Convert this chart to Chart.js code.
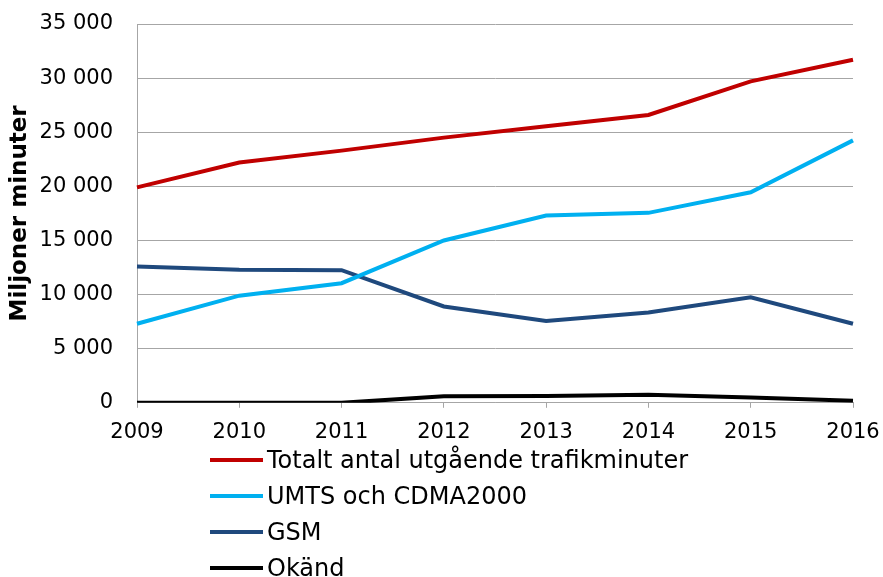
<!DOCTYPE html>
<html>
<head>
<meta charset="utf-8">
<script src="https://cdn.jsdelivr.net/npm/chart.js@4"></script>
<style>
  html, body { margin: 0; padding: 0; background: #fff; }
  #wrap { position: relative; width: 883px; height: 577px; font-family: "DejaVu Sans", Verdana, sans-serif; }
  #box { position: absolute; left: 0; top: 0; width: 883px; height: 457px; }
  #legend { position: absolute; left: 210px; top: 442px; margin: 0; padding: 0; list-style: none; }
  #legend li { height: 36px; display: flex; align-items: center; font-size: 24px; color: #000; }
  #legend li span { display: inline-block; width: 53px; height: 4px; margin-right: 4px; }
</style>
</head>
<body>
<div id="wrap">
  <div id="box"><canvas id="chartMinuter"></canvas></div>
  <ul id="legend"></ul>
</div>
<script>
// ==================== DATA ====================
const years = ['2009', '2010', '2011', '2012', '2013', '2014', '2015', '2016'];
const totalt = [19900, 22200, 23300, 24500, 25550, 26600, 29700, 31700];
const umts = [7300, 9900, 11050, 15000, 17300, 17550, 19450, 24250];
const gsm = [12600, 12300, 12250, 8900, 7550, 8350, 9750, 7300];
const okand = [0, 0, 0, 600, 620, 750, 500, 180];
const yTicks = [0, 5000, 10000, 15000, 20000, 25000, 30000, 35000];

const fonte = "'DejaVu Sans', Verdana, sans-serif";

function serie(label, data, cor) {
  return {
    label: label,
    data: data,
    borderColor: cor,
    backgroundColor: cor,
    borderWidth: 4,
    pointRadius: 0,
    tension: 0,
  };
}

// ==================== GRAFICO ====================
const cx = document.getElementById('chartMinuter');
const cht = new Chart(cx, {
  type: 'line',
  data: {
    labels: years,
    datasets: [
      serie('Totalt antal utgående trafikminuter', totalt, '#c00000'),
      serie('UMTS och CDMA2000', umts, '#00b0f0'),
      serie('GSM', gsm, '#1f497d'),
      serie('Okänd', okand, '#000000'),
    ]
  },
  options: {
    responsive: true,
    maintainAspectRatio: false,
    animation: false,
    layout: { padding: { top: 24, right: 30, left: 6, bottom: 0 } },
    scales: {
      x: {
        offset: false,
        afterFit: (axis) => { axis.paddingLeft = 0; axis.paddingRight = 0; },
        grid: { drawOnChartArea: false, color: '#a6a6a6', tickLength: 5 },
        border: { color: '#a6a6a6' },
        ticks: { color: '#000', font: { family: fonte, size: 21 }, padding: 12, maxRotation: 0 },
      },
      y: {
        min: 0,
        max: 35000,
        afterBuildTicks: (axis) => { axis.ticks = yTicks.map(v => ({ value: v })); },
        afterFit: (axis) => { axis.width = 131; axis.paddingTop = 0; axis.paddingBottom = 0; },
        grid: { color: '#a6a6a6', drawTicks: false },
        border: { color: '#a6a6a6' },
        ticks: {
          color: '#000',
          font: { family: fonte, size: 21 },
          padding: 24,
          callback: (v) => String(v).replace(/\B(?=(\d{3})+(?!\d))/g, ' '),
        },
        title: {
          display: true,
          text: 'Miljoner minuter',
          color: '#000',
          font: { family: fonte, size: 23, weight: 'bold' },
          padding: { top: 0, bottom: 4 },
        },
      },
    },
    plugins: {
      legend: { display: false },
      tooltip: { enabled: false },
    },
  }
});

// legenda vertical em HTML
const ul = document.getElementById('legend');
cht.data.datasets.forEach(ds => {
  const li = document.createElement('li');
  const sw = document.createElement('span');
  sw.style.background = ds.borderColor;
  li.appendChild(sw);
  li.appendChild(document.createTextNode(ds.label));
  ul.appendChild(li);
});
</script>
</body>
</html>
